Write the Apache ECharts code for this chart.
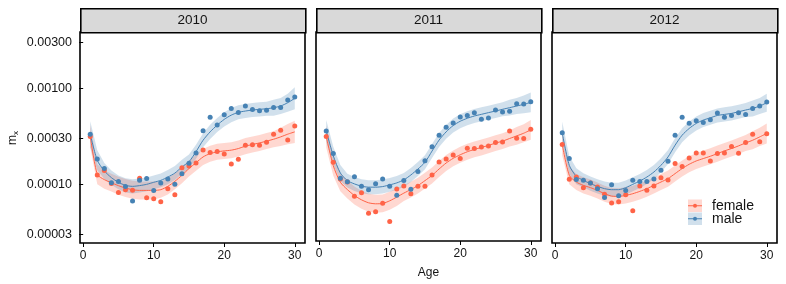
<!DOCTYPE html>
<html><head><meta charset="utf-8">
<script src="https://cdn.jsdelivr.net/npm/echarts@6/dist/echarts.min.js"></script>
<style>html,body{margin:0;padding:0;background:#fff}#c{width:786px;height:284px}</style>
</head><body><div id="c"></div>
<script>
const years = ['2010', '2011', '2012'];
const ages = [1,2,3,4,5,6,7,8,9,10,11,12,13,14,15,16,17,18,19,20,21,22,23,24,25,26,27,28,29,30];
const yTicks = [0.00003, 0.0001, 0.0003, 0.001, 0.003];
const xTicks = [0, 10, 20, 30];

// observed rates
const female2010 = [3.15e-4,1.25e-4,1.39e-4,1.02e-4,8.2e-5,8.8e-5,8.7e-5,1.16e-4,7.26e-5,7.1e-5,6.6e-5,9.0e-5,7.8e-5,1.49e-4,1.55e-4,1.67e-4,2.28e-4,2.14e-4,2.2e-4,2.07e-4,1.63e-4,1.82e-4,2.56e-4,2.58e-4,2.56e-4,2.75e-4,3.33e-4,3.67e-4,2.9e-4,4.04e-4];
const male2010 = [3.32e-4,1.84e-4,1.46e-4,1.04e-4,1.07e-4,9.5e-5,6.7e-5,1.10e-4,1.15e-4,8.65e-5,1.03e-4,1.14e-4,1.0e-4,1.29e-4,1.66e-4,2.12e-4,3.61e-4,5.01e-4,4.14e-4,5.30e-4,6.18e-4,5.61e-4,6.53e-4,6.03e-4,5.83e-4,5.9e-4,6.33e-4,6.33e-4,7.55e-4,8.11e-4];
const female2011 = [3.08e-4,1.65e-4,1.1e-4,1.02e-4,7.26e-5,7.9e-5,4.8e-5,4.97e-5,6.1e-5,3.94e-5,8.65e-5,9.3e-5,7.7e-5,9.2e-5,9.2e-5,1.21e-4,1.66e-4,1.78e-4,1.96e-4,1.81e-4,2.32e-4,2.3e-4,2.39e-4,2.44e-4,2.66e-4,2.7e-4,3.52e-4,2.95e-4,2.93e-4,3.67e-4];
const male2011 = [3.52e-4,2.04e-4,1.12e-4,1.03e-4,1.16e-4,9.2e-5,8.45e-5,9.8e-5,1.10e-4,9.2e-5,7.4e-5,1.06e-4,8.6e-5,1.32e-4,1.71e-4,2.40e-4,3.17e-4,3.85e-4,4.27e-4,4.93e-4,5.1e-4,5.48e-4,4.67e-4,4.82e-4,5.83e-4,5.56e-4,5.66e-4,6.8e-4,6.74e-4,7.14e-4];
const female2012 = [2.60e-4,1.13e-4,1.19e-4,9.2e-5,1.03e-4,9.4e-5,7.9e-5,6.4e-5,6.6e-5,7.8e-5,5.3e-5,9.6e-5,8.7e-5,9.6e-5,1.17e-4,1.11e-4,1.65e-4,1.53e-4,1.88e-4,2.12e-4,2.12e-4,1.75e-4,2.09e-4,2.12e-4,2.48e-4,2.11e-4,2.73e-4,3.33e-4,2.77e-4,3.36e-4];
const male2012 = [3.44e-4,1.86e-4,1.12e-4,1.10e-4,1.03e-4,9.0e-5,7.3e-5,9.9e-5,7.6e-5,8.65e-5,1.10e-4,1.07e-4,1.07e-4,1.14e-4,1.40e-4,1.74e-4,3.25e-4,5.01e-4,4.34e-4,4.59e-4,4.41e-4,4.70e-4,5.52e-4,5.01e-4,5.22e-4,5.56e-4,5.35e-4,6.18e-4,6.53e-4,7.19e-4];

// smoothed fits and confidence bands
const femaleFit2010 = [3.18e-4,1.27e-4,1.12e-4,1.04e-4,9.69e-5,9.15e-5,8.8e-5,8.65e-5,8.65e-5,8.65e-5,8.8e-5,9.53e-5,1.075e-4,1.242e-4,1.46e-4,1.68e-4,1.93e-4,2.09e-4,2.18e-4,2.23e-4,2.27e-4,2.36e-4,2.50e-4,2.60e-4,2.70e-4,2.82e-4,2.95e-4,3.12e-4,3.33e-4,3.52e-4];
const femaleLo2010 = [2.44e-4,1.0e-4,9.0e-5,8.4e-5,7.8e-5,7.37e-5,7.09e-5,6.96e-5,6.96e-5,6.96e-5,7.26e-5,7.86e-5,8.87e-5,1.025e-4,1.205e-4,1.386e-4,1.59e-4,1.72e-4,1.80e-4,1.84e-4,1.87e-4,1.95e-4,2.06e-4,2.15e-4,2.23e-4,2.33e-4,2.43e-4,2.51e-4,2.62e-4,2.70e-4];
const femaleHi2010 = [4.14e-4,1.62e-4,1.39e-4,1.29e-4,1.20e-4,1.14e-4,1.09e-4,1.07e-4,1.07e-4,1.07e-4,1.07e-4,1.155e-4,1.30e-4,1.505e-4,1.77e-4,2.04e-4,2.34e-4,2.53e-4,2.64e-4,2.70e-4,2.75e-4,2.86e-4,3.03e-4,3.15e-4,3.27e-4,3.42e-4,3.58e-4,3.88e-4,4.24e-4,4.59e-4];
const maleFit2010 = [3.33e-4,1.78e-4,1.38e-4,1.175e-4,1.05e-4,9.76e-5,9.53e-5,9.7e-5,1.0e-4,1.05e-4,1.10e-4,1.19e-4,1.31e-4,1.52e-4,1.72e-4,2.19e-4,2.88e-4,3.52e-4,4.14e-4,4.75e-4,5.26e-4,5.62e-4,5.80e-4,5.94e-4,6.04e-4,6.13e-4,6.28e-4,6.54e-4,7.08e-4,7.87e-4];
const maleLo2010 = [2.44e-4,1.40e-4,1.14e-4,9.9e-5,8.9e-5,8.2e-5,8.05e-5,8.2e-5,8.45e-5,8.9e-5,9.3e-5,1.005e-4,1.11e-4,1.28e-4,1.45e-4,1.85e-4,2.43e-4,2.97e-4,3.50e-4,4.01e-4,4.44e-4,4.75e-4,4.90e-4,5.02e-4,5.10e-4,5.18e-4,5.18e-4,5.40e-4,5.70e-4,6.04e-4];
const maleHi2010 = [4.55e-4,2.26e-4,1.67e-4,1.39e-4,1.24e-4,1.16e-4,1.13e-4,1.15e-4,1.18e-4,1.24e-4,1.30e-4,1.41e-4,1.55e-4,1.80e-4,2.04e-4,2.59e-4,3.41e-4,4.17e-4,4.90e-4,5.62e-4,6.23e-4,6.65e-4,6.87e-4,7.03e-4,7.15e-4,7.26e-4,7.61e-4,7.93e-4,8.79e-4,1.025e-3];

const femaleFit2011 = [3.08e-4,1.517e-4,1.017e-4,8.51e-5,7.37e-5,6.64e-5,6.18e-5,6.03e-5,6.08e-5,6.48e-5,7.09e-5,7.81e-5,8.51e-5,9.37e-5,1.057e-4,1.198e-4,1.40e-4,1.618e-4,1.812e-4,1.976e-4,2.125e-4,2.25e-4,2.36e-4,2.48e-4,2.62e-4,2.75e-4,2.93e-4,3.12e-4,3.33e-4,3.61e-4];
const femaleLo2011 = [2.36e-4,1.19e-4,8.19e-5,6.85e-5,5.93e-5,5.35e-5,4.98e-5,4.86e-5,4.90e-5,5.22e-5,5.71e-5,6.44e-5,7.02e-5,7.73e-5,8.72e-5,9.88e-5,1.155e-4,1.335e-4,1.495e-4,1.63e-4,1.753e-4,1.856e-4,1.947e-4,2.046e-4,2.162e-4,2.269e-4,2.417e-4,2.512e-4,2.681e-4,2.838e-4];
const femaleHi2011 = [4.01e-4,1.93e-4,1.263e-4,1.057e-4,9.15e-5,8.25e-5,7.68e-5,7.49e-5,7.55e-5,8.05e-5,8.81e-5,9.47e-5,1.031e-4,1.136e-4,1.281e-4,1.452e-4,1.697e-4,1.961e-4,2.196e-4,2.395e-4,2.576e-4,2.727e-4,2.86e-4,3.006e-4,3.175e-4,3.333e-4,3.551e-4,3.875e-4,4.136e-4,4.592e-4];
const maleFit2011 = [3.52e-4,1.93e-4,1.272e-4,1.057e-4,9.76e-5,9.24e-5,9.02e-5,9.02e-5,9.15e-5,9.53e-5,1.0e-4,1.075e-4,1.212e-4,1.40e-4,1.646e-4,2.16e-4,2.82e-4,3.44e-4,4.01e-4,4.45e-4,4.78e-4,5.05e-4,5.26e-4,5.48e-4,5.70e-4,5.94e-4,6.18e-4,6.43e-4,6.70e-4,7.03e-4];
const maleLo2011 = [2.70e-4,1.55e-4,1.05e-4,8.93e-5,8.24e-5,7.80e-5,7.62e-5,7.62e-5,7.73e-5,8.05e-5,8.45e-5,9.08e-5,1.024e-4,1.182e-4,1.39e-4,1.824e-4,2.38e-4,2.91e-4,3.39e-4,3.76e-4,4.04e-4,4.27e-4,4.44e-4,4.63e-4,4.81e-4,5.02e-4,5.10e-4,5.31e-4,5.39e-4,5.53e-4];
const maleHi2011 = [4.59e-4,2.40e-4,1.54e-4,1.25e-4,1.156e-4,1.094e-4,1.068e-4,1.068e-4,1.083e-4,1.128e-4,1.184e-4,1.273e-4,1.435e-4,1.658e-4,1.949e-4,2.557e-4,3.34e-4,4.07e-4,4.75e-4,5.27e-4,5.66e-4,5.98e-4,6.23e-4,6.49e-4,6.75e-4,7.03e-4,7.49e-4,7.79e-4,8.32e-4,8.94e-4];

const femaleFit2012 = [2.60e-4,1.242e-4,1.057e-4,9.76e-5,9.24e-5,8.65e-5,7.99e-5,7.55e-5,7.49e-5,7.67e-5,7.99e-5,8.45e-5,9.02e-5,9.76e-5,1.057e-4,1.147e-4,1.294e-4,1.46e-4,1.618e-4,1.753e-4,1.856e-4,1.962e-4,2.09e-4,2.23e-4,2.36e-4,2.515e-4,2.70e-4,2.88e-4,3.12e-4,3.39e-4];
const femaleLo2012 = [1.995e-4,1.0e-4,8.72e-5,8.05e-5,7.62e-5,7.14e-5,6.59e-5,6.23e-5,6.18e-5,6.33e-5,6.59e-5,6.97e-5,7.44e-5,8.05e-5,8.72e-5,9.46e-5,1.068e-4,1.205e-4,1.335e-4,1.446e-4,1.531e-4,1.619e-4,1.724e-4,1.84e-4,1.947e-4,2.075e-4,2.228e-4,2.319e-4,2.512e-4,2.665e-4];
const femaleHi2012 = [3.388e-4,1.543e-4,1.281e-4,1.183e-4,1.12e-4,1.048e-4,9.68e-5,9.15e-5,9.08e-5,9.3e-5,9.68e-5,1.024e-4,1.093e-4,1.183e-4,1.281e-4,1.39e-4,1.568e-4,1.77e-4,1.961e-4,2.125e-4,2.249e-4,2.378e-4,2.533e-4,2.703e-4,2.86e-4,3.048e-4,3.272e-4,3.577e-4,3.875e-4,4.312e-4];
const maleFit2012 = [3.44e-4,1.58e-4,1.212e-4,1.101e-4,1.017e-4,9.53e-5,9.02e-5,8.8e-5,8.8e-5,9.24e-5,1.0e-4,1.083e-4,1.192e-4,1.345e-4,1.58e-4,1.93e-4,2.557e-4,3.25e-4,3.82e-4,4.31e-4,4.67e-4,4.93e-4,5.22e-4,5.35e-4,5.48e-4,5.70e-4,5.94e-4,6.18e-4,6.54e-4,7.08e-4];
const maleLo2012 = [2.64e-4,1.272e-4,1.0e-4,9.3e-5,8.59e-5,8.05e-5,7.62e-5,7.43e-5,7.43e-5,7.80e-5,8.45e-5,9.15e-5,1.007e-4,1.136e-4,1.334e-4,1.63e-4,2.16e-4,2.745e-4,3.226e-4,3.64e-4,3.944e-4,4.164e-4,4.409e-4,4.519e-4,4.628e-4,4.814e-4,5.017e-4,5.10e-4,5.396e-4,5.70e-4];
const maleHi2012 = [4.48e-4,1.962e-4,1.469e-4,1.304e-4,1.204e-4,1.128e-4,1.068e-4,1.042e-4,1.042e-4,1.094e-4,1.184e-4,1.282e-4,1.411e-4,1.592e-4,1.871e-4,2.285e-4,3.027e-4,3.848e-4,4.523e-4,5.10e-4,5.529e-4,5.837e-4,6.18e-4,6.334e-4,6.488e-4,6.749e-4,7.033e-4,7.49e-4,7.926e-4,8.79e-4];

const panels = [
  {f: female2010, m: male2010, fFit: femaleFit2010, fLo: femaleLo2010, fHi: femaleHi2010, mFit: maleFit2010, mLo: maleLo2010, mHi: maleHi2010},
  {f: female2011, m: male2011, fFit: femaleFit2011, fLo: femaleLo2011, fHi: femaleHi2011, mFit: maleFit2011, mLo: maleLo2011, mHi: maleHi2011},
  {f: female2012, m: male2012, fFit: femaleFit2012, fLo: femaleLo2012, fHi: femaleHi2012, mFit: maleFit2012, mLo: maleLo2012, mHi: maleHi2012}
];

const RED = '#FF6347', BLUE = '#4682B4';
const RED_FILL = 'rgba(255,99,71,0.25)', BLUE_FILL = 'rgba(70,130,180,0.25)';
const FONT = '"Liberation Sans", Arial, sans-serif';
const TXT = '#141414';

const lefts = [80, 316, 552];
const PW = 225, TOP = 32, PH = 211;

function ribbon(gi, lo, hi, fill, name) {
  return {
    type: 'custom', name: name, xAxisIndex: gi, yAxisIndex: gi, silent: true, z: 1,
    data: ages.map((a, i) => [a, lo[i], hi[i]]),
    encode: {x: 0, y: [1, 2]},
    renderItem: function (params, api) {
      if (params.dataIndex !== 0) return null;
      const top = ages.map((a, i) => api.coord([a, hi[i]]));
      const bot = ages.map((a, i) => api.coord([a, lo[i]])).reverse();
      return {type: 'polygon', shape: {points: top.concat(bot)}, style: {fill: fill}};
    }
  };
}
function fitLine(gi, fit, color) {
  return {type: 'line', xAxisIndex: gi, yAxisIndex: gi, data: ages.map((a, i) => [a, fit[i]]),
    showSymbol: false, smooth: 0.25, silent: true, z: 3, lineStyle: {color: color, width: 1}};
}
function points(gi, vals, color) {
  return {type: 'scatter', xAxisIndex: gi, yAxisIndex: gi, data: ages.map((a, i) => [a, vals[i]]),
    symbolSize: 5, silent: true, z: 4, itemStyle: {color: color, opacity: 1}};
}

const grids = [], xAxes = [], yAxes = [], series = [], graphics = [];
panels.forEach((p, gi) => {
  grids.push({left: lefts[gi], top: TOP, width: PW, height: PH, show: true,
    borderColor: '#000', borderWidth: 1.6, backgroundColor: 'transparent'});
  xAxes.push({type: 'value', gridIndex: gi, min: -0.45, max: 31.45,
    axisLine: {show: false}, splitLine: {show: false},
    axisTick: {show: true, customValues: xTicks, length: 4, lineStyle: {color: '#000', width: 1}},
    axisLabel: {customValues: xTicks, fontSize: 12, color: TXT, margin: 7, fontFamily: FONT},
    name: gi === 1 ? 'Age' : '', nameLocation: 'middle', nameGap: 26,
    nameTextStyle: {fontSize: 12, color: TXT, fontFamily: FONT}});
  yAxes.push({type: 'log', logBase: 10, gridIndex: gi, min: 2.45e-5, max: 3.86e-3,
    axisLine: {show: false}, splitLine: {show: false}, minorTick: {show: false},
    axisTick: {show: gi === 0, customValues: yTicks, length: 4, lineStyle: {color: '#000', width: 1}},
    axisLabel: {show: gi === 0, customValues: yTicks, fontSize: 12.5, color: TXT, margin: 8,
      fontFamily: FONT, formatter: v => Number(v).toFixed(5)}});
  series.push(ribbon(gi, p.fLo, p.fHi, RED_FILL, 'female'));
  series.push(ribbon(gi, p.mLo, p.mHi, BLUE_FILL, 'male'));
  series.push(points(gi, p.f, RED));
  series.push(points(gi, p.m, BLUE));
  series.push(fitLine(gi, p.fFit, RED));
  series.push(fitLine(gi, p.mFit, BLUE));
  // facet strip
  graphics.push({type: 'rect', left: lefts[gi], top: 8, shape: {x: 0, y: 0, width: PW, height: 24},
    style: {fill: '#D9D9D9', stroke: '#000', lineWidth: 1.6}, z: 10});
  graphics.push({type: 'text', x: lefts[gi] + PW / 2, y: 20.5, z: 11,
    style: {text: years[gi], fill: TXT, font: '13.5px ' + FONT, textAlign: 'center', textVerticalAlign: 'middle'}});
});

// y-axis title m_x
graphics.push({type: 'text', x: 13, y: 138, rotation: Math.PI / 2, z: 11,
  style: {text: '{m|m}{s|x}', textAlign: 'center', textVerticalAlign: 'middle',
    rich: {m: {fontSize: 12, fontFamily: FONT, fill: TXT, color: TXT},
           s: {fontSize: 8, fontFamily: FONT, fill: TXT, color: TXT, verticalAlign: 'bottom', padding: [5, 0, 0, 0]}}}});

// legend (inside 2012 panel)
const LX = 688, LY = [199.5, 212.5], LW = 14, LH = 12.5;
[[RED_FILL, RED, 'female'], [BLUE_FILL, BLUE, 'male']].forEach((d, i) => {
  graphics.push({type: 'rect', shape: {x: LX, y: LY[i], width: LW, height: LH}, style: {fill: d[0]}, z: 12});
  graphics.push({type: 'line', shape: {x1: LX, y1: LY[i] + LH / 2, x2: LX + LW, y2: LY[i] + LH / 2}, style: {stroke: d[1], lineWidth: 1}, z: 13});
  graphics.push({type: 'circle', shape: {cx: LX + LW / 2, cy: LY[i] + LH / 2, r: 2}, style: {fill: d[1]}, z: 13});
  graphics.push({type: 'text', x: 712, y: LY[i] + LH / 2, z: 13,
    style: {text: d[2], fill: TXT, font: '14px ' + FONT, textVerticalAlign: 'middle'}});
});

const chart = echarts.init(document.getElementById('c'), null, {renderer: 'canvas'});
chart.setOption({
  animation: false,
  backgroundColor: '#fff',
  grid: grids, xAxis: xAxes, yAxis: yAxes, series: series, graphic: graphics
});
</script></body></html>
